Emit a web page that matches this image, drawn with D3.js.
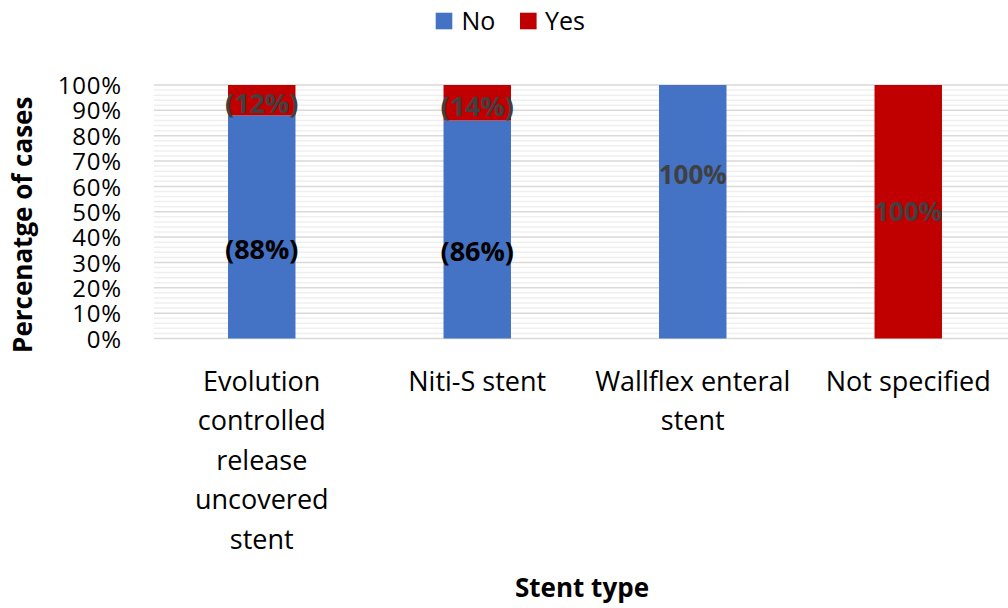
<!DOCTYPE html>
<html>
<head>
<meta charset="utf-8">
<script src="https://cdn.jsdelivr.net/npm/d3@7/dist/d3.min.js"></script>
<style>
  html, body { margin: 0; padding: 0; background: #fff; }
  svg { display: block; font-family: "Open Sans", "Noto Sans", sans-serif; }
</style>
</head>
<body>
<svg id="chart" width="1008" height="608"></svg>
<script>
// Stent types and share of cases (%) per outcome
const categories = [
  "Evolution controlled release uncovered stent",
  "Niti-S stent",
  "Wallflex enteral stent",
  "Not specified"
];
const seriesNames = ["No", "Yes"];
const noValues  = [88, 86, 100, 0];
const yesValues = [12, 14, 0, 100];
const tickValues = [0, 10, 20, 30, 40, 50, 60, 70, 80, 90, 100];
const yTitle = "Percenatge of cases";
const xTitle = "Stent type";

const colors = { No: "#4472C4", Yes: "#C00000" };

const svg = d3.select("#chart");
const W = 1008, H = 608;
const plot = { left: 154, right: 1016, top: 85, bottom: 338.5 };

const x = d3.scaleBand().domain(categories).range([plot.left, plot.right]).padding(0);
const y = d3.scaleLinear().domain([0, 100]).range([plot.bottom, plot.top]);
const barW = x.bandwidth() * 0.313;

// minor gridlines every 2%
const grid = svg.append("g");
grid.selectAll("line.minor")
  .data(d3.range(0, 101, 2).filter(v => v % 10 !== 0))
  .join("line")
  .attr("x1", plot.left).attr("x2", W)
  .attr("y1", d => y(d)).attr("y2", d => y(d))
  .attr("stroke", "#efefef").attr("stroke-width", 1.5);
// major gridlines every 10%
grid.selectAll("line.major")
  .data(tickValues)
  .join("line")
  .attr("x1", plot.left).attr("x2", W)
  .attr("y1", d => y(d)).attr("y2", d => y(d))
  .attr("stroke", "#d9d9d9").attr("stroke-width", 1.5);

// stacked bars
const rows = categories.map((c, i) => ({ cat: c, No: noValues[i], Yes: yesValues[i] }));
const stack = d3.stack().keys(seriesNames)(rows);

const barsG = svg.append("g");
stack.forEach(layer => {
  barsG.selectAll(null)
    .data(layer)
    .join("rect")
    .attr("x", d => x(d.data.cat) + (x.bandwidth() - barW) / 2)
    .attr("width", barW)
    .attr("y", d => y(d[1]))
    .attr("height", d => y(d[0]) - y(d[1]))
    .attr("fill", colors[layer.key]);
});

// data labels
const labelG = svg.append("g").attr("font-weight", "bold");
// vertical placement of each label as a fraction down from the segment top
const placeNo = [0.6, 0.6, 0.355, 0.5];
stack.forEach(layer => {
  layer.forEach((d, i) => {
    const v = d[1] - d[0];
    if (v <= 0) return;
    const partial = v < 100;
    const txt = partial ? `(${v}%)` : `${v}%`;
    const top = y(d[1]), bot = y(d[0]);
    let cy;
    if (layer.key === "No") cy = top + (bot - top) * placeNo[i];
    else cy = partial ? top + (bot - top) * 0.6 : (top + bot) / 2;
    labelG.append("text")
      .attr("x", x(d.data.cat) + x.bandwidth() / 2)
      .attr("y", cy)
      .attr("dy", "0.36em")
      .attr("text-anchor", "middle")
      .attr("font-size", partial ? 27 : 26)
      .attr("fill", layer.key === "No" && partial ? "#000" : "#404040")
      .text(txt);
  });
});

// y axis tick labels
const yAxis = d3.axisLeft(y).tickValues(tickValues).tickSize(0).tickPadding(32)
  .tickFormat(d => d + "%");
svg.append("g")
  .attr("transform", `translate(${plot.left},0)`)
  .call(yAxis)
  .call(g => g.select(".domain").remove())
  .call(g => g.selectAll("text")
    .attr("font-family", "'Open Sans', sans-serif")
    .attr("font-size", 24).attr("letter-spacing", 0.8)
    .attr("fill", "#000").attr("dy", "0.36em"));

// x axis category labels, wrapped within the band
const xg = svg.append("g").attr("font-size", 27).attr("fill", "#000");
const wrapWidth = 200;
categories.forEach(c => {
  const cx = x(c) + x.bandwidth() / 2;
  const t = xg.append("text").attr("x", cx).attr("y", 391).attr("text-anchor", "middle");
  let line = [];
  let tspan = t.append("tspan").attr("x", cx).attr("dy", 0);
  c.split(" ").forEach(w => {
    line.push(w);
    tspan.text(line.join(" "));
    if (tspan.node().getComputedTextLength() > wrapWidth && line.length > 1) {
      line.pop();
      tspan.text(line.join(" "));
      line = [w];
      tspan = t.append("tspan").attr("x", cx).attr("dy", 39.4).text(w);
    }
  });
});

// axis titles
svg.append("text")
  .attr("transform", `translate(32,${(plot.top + plot.bottom) / 2 + 13}) rotate(-90)`)
  .attr("text-anchor", "middle")
  .attr("font-size", 26).attr("font-weight", "bold")
  .text(yTitle);

svg.append("text")
  .attr("x", 582).attr("y", 597)
  .attr("text-anchor", "middle")
  .attr("font-size", 26).attr("font-weight", "bold")
  .text(xTitle);

// legend
const legend = svg.append("g");
const legendItems = [
  { name: "No", sx: 435.7, tx: 461.5 },
  { name: "Yes", sx: 520, tx: 545 }
];
legendItems.forEach(it => {
  legend.append("rect").attr("x", it.sx).attr("y", 12.7).attr("width", 16.6).attr("height", 16.6)
    .attr("fill", colors[it.name]);
  legend.append("text").attr("x", it.tx).attr("y", 30).attr("font-size", 25).text(it.name);
});
</script>
</body>
</html>
